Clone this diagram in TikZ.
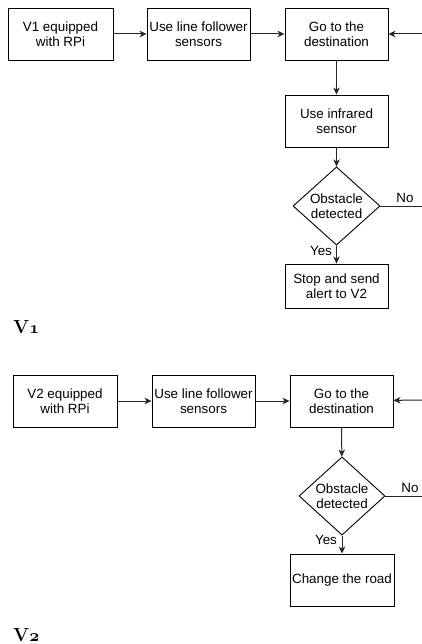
\documentclass[tikz,border=0pt]{standalone}
\usepackage{fontspec}
\newfontfamily\boxfont{Liberation Sans}
\usetikzlibrary{shapes.geometric,arrows.meta}
\newcommand{\osone}{{\usefont{OML}{cmm}{b}{it}1}}
\newcommand{\ostwo}{{\usefont{OML}{cmm}{b}{it}2}}
\tikzset{
  stepbox/.style={draw=black, line width=0.9pt, rectangle, align=center, inner sep=1pt,
    font=\boxfont\fontsize{13.4}{15.5}\selectfont},
  decision/.style={draw=black, line width=0.9pt, diamond, align=center, inner sep=0pt,
    font=\boxfont\fontsize{13.4}{15.5}\selectfont},
  conn/.style={draw=black!85, line width=1pt, -{Stealth[length=7pt,width=6.5pt,inset=2pt]}},
  plainconn/.style={draw=black!85, line width=0.9pt},
  lbl/.style={font=\boxfont\fontsize{13.4}{15.5}\selectfont, inner sep=0pt},
  heading/.style={font=\fontsize{19}{19}\selectfont\bfseries, inner sep=0pt, anchor=base west}
}
\begin{document}
\begin{tikzpicture}[x=1pt,y=-1pt]
\useasboundingbox (0,0) rectangle (422,644);
% ---------- V1 ----------
\node[stepbox, minimum width=105pt, minimum height=52pt] (a1) at (60.5,34) {V1 equipped\\with RPi};
\node[stepbox, minimum width=103pt, minimum height=52pt] (a2) at (198.5,34) {Use line follower\\sensors};
\node[stepbox, minimum width=103pt, minimum height=52pt] (a3) at (336.5,34) {Go to the\\destination};
\node[stepbox, minimum width=103pt, minimum height=52pt] (a4) at (336.5,121) {Use infrared\\sensor};
\node[decision, minimum width=87pt, minimum height=68pt] (d1) at (336.5,206) {Obstacle\\detected};
\node[stepbox, minimum width=103pt, minimum height=44pt] (a5) at (336.5,286) {Stop and send\\alert to V2};
\coordinate (r1) at (422,34);
\coordinate (n1) at (422,206);
\draw[conn] (a1) -- (a2);
\draw[conn] (a2) -- (a3);
\draw[conn] (r1) -- (a3);
\draw[conn] (a3) -- (a4);
\draw[conn] (a4) -- (d1);
\draw[conn] (d1) -- (a5);
\draw[plainconn] (d1.east) -- (n1);
\node[lbl] (no1) at (405,198) {No};
\node[lbl] (yes1) at (321,251) {Yes};
\node[heading] (h1) at (13,333) {V\osone};
% ---------- V2 ----------
\node[stepbox, minimum width=104pt, minimum height=52pt] (b1) at (65,401) {V2 equipped\\with RPi};
\node[stepbox, minimum width=103pt, minimum height=52pt] (b2) at (203.5,401) {Use line follower\\sensors};
\node[stepbox, minimum width=103pt, minimum height=52pt] (b3) at (341.5,401) {Go to the\\destination};
\node[decision, minimum width=86pt, minimum height=68pt] (d2) at (342,496) {Obstacle\\detected};
\node[stepbox, minimum width=104pt, minimum height=52pt] (b4) at (342,580) {Change the road};
\coordinate (r2) at (422,400);
\coordinate (n2) at (422,496);
\draw[conn] (b1) -- (b2);
\draw[conn] (b2) -- (b3);
\draw[conn] (r2) -- (b3);
\draw[conn] (b3) -- (d2);
\draw[conn] (d2) -- (b4);
\draw[plainconn] (d2.east) -- (n2);
\node[lbl] (no2) at (410,488) {No};
\node[lbl] (yes2) at (326,540) {Yes};
\node[heading] (h2) at (13,641) {V\ostwo};
\end{tikzpicture}
\end{document}
